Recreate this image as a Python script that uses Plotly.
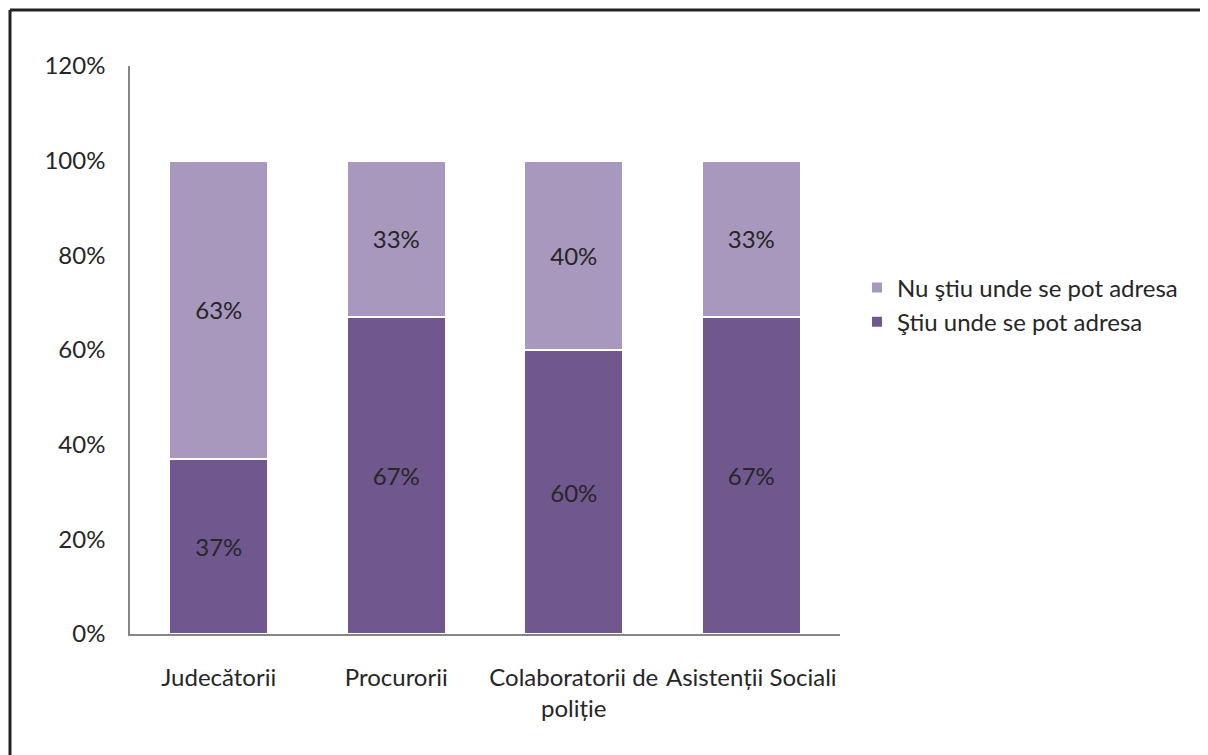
import plotly.graph_objects as go

categories = ["Judecătorii", "Procurorii", "Colaboratorii de<br>poliție", "Asistenții Sociali"]
stiu = [37, 67, 60, 67]
nu_stiu = [63, 33, 40, 33]
series_names = ["Ştiu unde se pot adresa", "Nu ştiu unde se pot adresa"]
y_ticks = [0, 20, 40, 60, 80, 100, 120]

FONT = "Lato, Open Sans, sans-serif"
TXT = "#262626"
FS = 24

fig = go.Figure()
fig.add_trace(go.Bar(
    x=categories, y=stiu, name=series_names[0],
    marker=dict(color="#70588E", line=dict(color="white", width=2)),
    text=[f"{v}%" for v in stiu], textposition="inside", insidetextanchor="middle",
    textfont=dict(color=TXT, size=FS, family=FONT), legendgroup="a",
))
fig.add_trace(go.Bar(
    x=categories, y=nu_stiu, name=series_names[1],
    marker=dict(color="#A898BD", line=dict(color="white", width=2)),
    text=[f"{v}%" for v in nu_stiu], textposition="inside", insidetextanchor="middle",
    textfont=dict(color=TXT, size=FS, family=FONT), legendgroup="b",
))

# page body has an 8px margin: figure coords = page coords - 8
W, H = 1200, 747
L, R, T, B = 122, 832, 58, 626
PW, PH = R - L, B - T
fig.update_layout(
    width=W, height=H,
    margin=dict(l=L, r=W - R, t=T, b=H - B, autoexpand=False),
    barmode="stack", bargap=0.44,
    plot_bgcolor="white", paper_bgcolor="white",
    font=dict(family=FONT, size=FS, color=TXT),
    showlegend=True,
    legend=dict(x=(849 - L) / PW, y=(B - 297) / PH, xanchor="left", yanchor="middle",
                traceorder="reversed", tracegroupgap=6,
                font=dict(size=FS, color=TXT, family=FONT),
                itemwidth=30),
    xaxis=dict(showline=True, linecolor="#868686", linewidth=1.5,
               showgrid=False, ticks="", ticklabelstandoff=21,
               tickfont=dict(size=FS, color=TXT)),
    yaxis=dict(range=[0, 120], tickvals=y_ticks, ticktext=[f"{v}%" for v in y_ticks],
               showline=True, linecolor="#868686", linewidth=1.5,
               showgrid=False, ticks="", ticklabelstandoff=18,
               tickfont=dict(size=FS, color=TXT), zeroline=False),
    shapes=[
        dict(type="line", xref="paper", yref="paper",
             x0=(2 - L) / PW, x1=(W + 5 - L) / PW,
             y0=(B - 2) / PH, y1=(B - 2) / PH,
             line=dict(color="#222222", width=3)),
        dict(type="line", xref="paper", yref="paper",
             x0=(2 - L) / PW, x1=(2 - L) / PW,
             y0=(B - 2) / PH, y1=(B - H - 5) / PH,
             line=dict(color="#222222", width=3)),
    ],
)

fig.write_html("out.html")
